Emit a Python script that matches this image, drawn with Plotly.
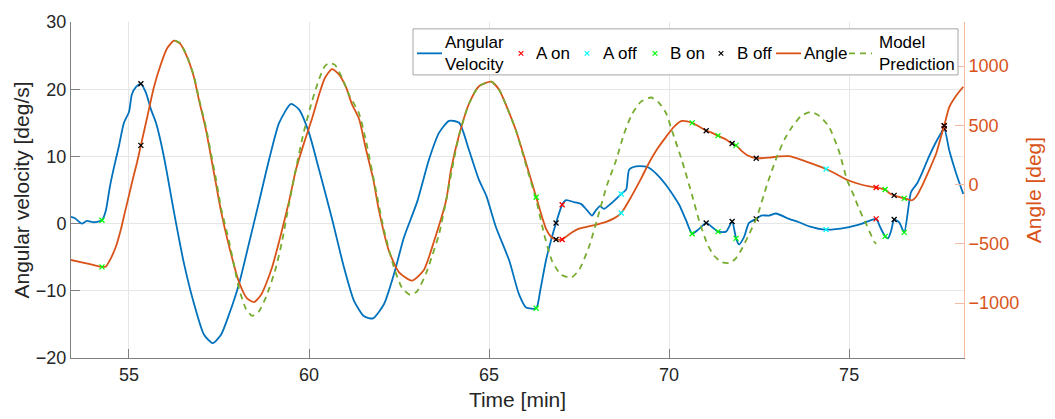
import plotly.graph_objects as go

# ---------------- data ----------------
# Angular velocity [deg/s] (left axis)
vel_t = [53.39, 53.50, 53.69, 53.83, 54.03, 54.25, 54.36, 54.47, 54.58, 54.72, 54.86,
         55.00, 55.08, 55.19, 55.33, 55.47, 55.61, 55.75, 55.89, 56.03, 56.25,
         56.53, 56.81, 57.08, 57.33, 57.56, 57.78, 58.06, 58.33, 58.61, 58.89, 59.17,
         59.50, 59.72, 60.00, 60.28, 60.64, 60.97, 61.25, 61.53, 61.78, 62.08, 62.36,
         62.64, 63.00, 63.33, 63.61, 63.89, 64.17, 64.44, 64.72, 64.92, 65.19, 65.56,
         65.83, 66.03, 66.31, 66.42, 66.58, 66.72, 66.86, 67.03, 67.14, 67.36, 67.56,
         67.72, 67.86, 67.97, 68.08, 68.19, 68.39, 68.67, 68.81, 68.89, 69.08, 69.31,
         69.44, 69.72, 69.92, 70.14, 70.28, 70.47, 70.64, 70.81, 71.03, 71.19, 71.36,
         71.58, 71.75, 71.86, 71.94, 72.08, 72.22, 72.42, 72.56, 72.78, 72.97, 73.33,
         73.61, 73.89, 74.36, 74.92, 75.36, 75.75, 75.86, 76.00, 76.08, 76.17, 76.25,
         76.39, 76.53, 76.72, 76.89, 77.03, 77.22, 77.44, 77.64, 77.78, 77.97, 78.17]
vel_v = [1.0, 0.8, 0.0, 0.4, 0.2, 0.5, 2.0, 5.5, 8.3, 11.5, 15.0,
         16.6, 19.2, 20.3, 20.8, 19.5, 17.0, 15.0, 12.0, 8.3, 1.7,
         -6.0, -12.0, -16.5, -17.8, -16.5, -13.5, -8.9, -3.0, 3.2, 9.5, 15.0,
         17.8, 17.0, 13.5, 8.0, 0.7, -6.5, -11.5, -13.8, -14.1, -12.0, -7.5,
         -2.0, 3.2, 9.5, 13.5, 15.3, 15.0, 11.0, 6.5, 4.2, -0.5, -5.5,
         -10.5, -12.5, -12.6, -10.0, -5.5, -2.5, 0.1, 2.8, 3.5, 3.2, 2.9,
         2.0, 1.2, 2.0, 2.6, 2.2, 3.0, 4.4, 5.1, 8.0, 8.5, 8.5,
         8.3, 7.0, 5.7, 4.0, 2.8, 0.5, -1.5, -0.9, 0.1, -0.5, -1.2,
         -1.2, 0.3, -2.2, -3.1, -2.0, 0.1, 0.7, 1.2, 1.2, 1.5, 0.7,
         0.2, -0.4, -0.9, -0.6, 0.0, 0.7, -0.5, -1.9, -2.2, -1.0, 0.6,
         0.2, -1.3, 4.7, 6.0, 7.6, 10.0, 12.4, 14.1, 10.9, 7.5, 4.4]

# Angle [deg] (right axis)
ang_t = [53.39, 53.75, 54.03, 54.25, 54.36, 54.50, 54.64, 54.78, 54.89, 55.00, 55.11,
         55.22, 55.33, 55.50, 55.69, 55.89, 56.06, 56.25, 56.42, 56.61, 56.81, 56.94,
         57.14, 57.28, 57.42, 57.56, 57.78, 58.06, 58.28, 58.47, 58.67, 58.83, 58.97,
         59.17, 59.44, 59.64, 59.86, 60.08, 60.28, 60.44, 60.64, 60.83, 61.03, 61.19,
         61.39, 61.58, 61.78, 61.94, 62.22, 62.50, 62.86, 63.19, 63.47, 63.81, 63.94,
         64.17, 64.44, 64.72, 65.06, 65.28, 65.50, 65.75, 66.03, 66.31, 66.58, 66.72,
         66.86, 67.03, 67.22, 67.50, 67.86, 68.25, 68.47, 68.67, 68.97, 69.22, 69.44,
         69.67, 69.92, 70.14, 70.36, 70.64, 70.83, 71.03, 71.19, 71.36, 71.58, 71.75,
         71.86, 72.03, 72.17, 72.42, 72.78, 73.06, 73.33, 73.69, 74.03, 74.36, 74.64,
         74.94, 75.28, 75.56, 75.75, 76.00, 76.11, 76.25, 76.53, 76.75, 76.89, 77.03,
         77.22, 77.42, 77.53, 77.64, 77.78, 77.97, 78.17]
ang_v = [-636, -660, -680, -694, -690, -620, -520, -372, -230, -91, 50,
         182, 331, 560, 820, 1020, 1150, 1215, 1190, 1080, 900, 719,
         460, 230, 0, -230, -520, -826, -960, -992, -930, -820, -702,
         -480, -149, 130, 350, 554, 760, 900, 975, 930, 820, 680,
         554, 300, 50, -215, -560, -740, -810, -720, -480, -130, 120,
         420, 680, 830, 868, 800, 650, 455, 180, -107, -372, -440,
         -463, -463, -420, -372, -347, -314, -285, -240, -91, 50, 182,
         300, 405, 490, 537, 521, 490, 455, 437, 413, 380, 347,
         331, 280, 248, 223, 228, 238, 240, 207, 170, 132, 90,
         41, 5, -15, -25, -41, -70, -91, -116, -132, -90, -8,
         120, 264, 380, 496, 653, 750, 826]

# Model prediction [deg] (right axis)
mod_t = [56.28, 56.42, 56.61, 56.81, 56.94, 57.14, 57.28, 57.42, 57.56, 57.78, 58.06,
         58.25, 58.42, 58.61, 58.83, 59.08, 59.25, 59.44, 59.64, 59.86, 60.08, 60.28,
         60.44, 60.56, 60.72, 60.92, 61.11, 61.39, 61.58, 61.86, 62.08, 62.36, 62.58,
         62.81, 63.00, 63.25, 63.42, 63.61, 63.83, 64.03, 64.17, 64.44, 64.72, 65.06,
         65.28, 65.50, 65.75, 66.03, 66.31, 66.53, 66.75, 67.00, 67.28, 67.50, 67.78,
         68.06, 68.28, 68.53, 68.75, 68.97, 69.22, 69.50, 69.72, 69.92, 70.08, 70.36,
         70.64, 70.83, 71.06, 71.25, 71.47, 71.69, 71.86, 72.03, 72.22, 72.44, 72.72,
         73.00, 73.22, 73.42, 73.67, 73.94, 74.17, 74.44, 74.72, 74.94, 75.14, 75.28,
         75.50, 75.69, 75.75]
mod_v = [1215, 1195, 1085, 910, 730, 480, 260, 40, -200, -480, -880,
         -1050, -1107, -1070, -930, -702, -480, -170, 140, 450, 700, 890,
         1000, 1025, 1010, 900, 760, 600, 370, -50, -380, -700, -870,
         -930, -900, -750, -600, -421, -100, 220, 420, 680, 830, 868,
         800, 650, 455, 160, -130, -420, -645, -760, -785, -720, -520,
         -231, 0, 207, 430, 595, 700, 735, 690, 600, 455, 200,
         -91, -300, -500, -600, -655, -661, -620, -537, -420, -273, 0,
         240, 390, 488, 580, 612, 580, 488, 280, 41, -100, -207,
         -350, -479, -500]

# Event markers
a_on_t = [67.03, 75.75, 77.64]
a_on_vel = [2.8, 0.7, 14.1]
a_on_ang = [-463, -25, 496]

a_off_t = [68.67, 74.36]
a_off_vel = [4.4, -0.9]
a_off_ang = [-240, 132]

b_on_t = [54.25, 66.31, 70.64, 71.36, 71.86, 76.00, 76.53]
b_on_vel = [0.5, -12.6, -1.5, -1.2, -2.2, -1.9, -1.3]
b_on_ang = [-694, -107, 521, 413, 331, -41, -116]

b_off_t = [55.33, 66.86, 71.03, 71.75, 72.42, 76.25, 77.64]
b_off_vel = [20.8, 0.1, 0.1, 0.3, 0.7, 0.6, 14.1]
b_off_ang = [331, -463, 455, 347, 223, -91, 496]

x_ticks = [55, 60, 65, 70, 75]
left_ticks = [-20, -10, 0, 10, 20, 30]
right_ticks = [-1000, -500, 0, 500, 1000]

legend_labels = ["Angular<br>Velocity", "A on", "A off", "B on", "B off", "Angle", "Model<br>Prediction"]

# ---------------- styling ----------------
BLUE = "#0072BD"
ORANGE = "#D95319"
GREEN = "#77AC30"
RED = "#FF0000"
CYAN = "#00FFFF"
LIME = "#00FF00"
BLACK = "#000000"
FONT = "Liberation Sans, Arial, Helvetica, sans-serif"
TXT = "#262626"
AX = "#808080"
GRID = "#e6e6e6"

W, H = 1055, 419
ML, MR, MT, MB = 71, 91, 16, 60
PW, PH = W - ML - MR, H - MT - MB


def pxx(p):
    return (p - ML) / PW


def pxy(p):
    return (H - MB - p) / PH


fig = go.Figure()

fig.add_trace(go.Scatter(x=vel_t, y=vel_v, mode="lines", name="Angular Velocity",
                         line=dict(color=BLUE, width=1.8, shape="spline", smoothing=0.6),
                         yaxis="y"))
fig.add_trace(go.Scatter(x=ang_t, y=ang_v, mode="lines", name="Angle",
                         line=dict(color=ORANGE, width=1.8, shape="spline", smoothing=0.6),
                         yaxis="y2"))
fig.add_trace(go.Scatter(x=mod_t, y=mod_v, mode="lines", name="Model Prediction",
                         line=dict(color=GREEN, width=1.8, dash="6px,5px", shape="spline", smoothing=0.6),
                         yaxis="y2"))

markers = [
    ("A on", RED, a_on_t, a_on_vel, a_on_ang),
    ("A off", CYAN, a_off_t, a_off_vel, a_off_ang),
    ("B on", LIME, b_on_t, b_on_vel, b_on_ang),
    ("B off", BLACK, b_off_t, b_off_vel, b_off_ang),
]
for name, col, t, v1, v2 in markers:
    mk = dict(symbol="x-thin", size=5, color=col, line=dict(color=col, width=1.3))
    fig.add_trace(go.Scatter(x=t, y=v1, mode="markers", name=name, marker=mk, yaxis="y"))
    fig.add_trace(go.Scatter(x=t, y=v2, mode="markers", name=name, marker=mk, yaxis="y2"))

# ---------------- compact MATLAB-style legend ----------------
shapes = []
annotations = []
shapes.append(dict(type="rect", xref="paper", yref="paper", layer="above",
                   x0=pxx(413), x1=pxx(958), y0=pxy(70), y1=pxy(23),
                   fillcolor="white", line=dict(color="#a6a6a6", width=1)))
row_y = 48
# (kind, colour, sample start, sample end, text x)
legend_layout = [
    ("line", BLUE, 417, 442, 443),
    ("x", RED, 521, 521, 534),
    ("x", CYAN, 587, 587, 601),
    ("x", LIME, 655, 655, 668),
    ("x", BLACK, 721, 721, 735),
    ("line", ORANGE, 776, 801, 802),
    ("dash", GREEN, 849, 872, 877),
]
for (kind, col, s0, s1, tx), label in zip(legend_layout, legend_labels):
    if kind == "x":
        r = 2.3
        for dy in (-r, r):
            shapes.append(dict(type="line", xref="paper", yref="paper", layer="above",
                               x0=pxx(s0 - r), x1=pxx(s0 + r), y0=pxy(row_y - dy), y1=pxy(row_y + dy),
                               line=dict(color=col, width=1.2)))
    else:
        shapes.append(dict(type="line", xref="paper", yref="paper", layer="above",
                           x0=pxx(s0), x1=pxx(s1), y0=pxy(row_y), y1=pxy(row_y),
                           line=dict(color=col, width=1.8,
                                     dash="6px,5px" if kind == "dash" else "solid")))
    annotations.append(dict(xref="paper", yref="paper", x=pxx(tx), y=pxy(row_y),
                            xanchor="left", yanchor="middle", showarrow=False,
                            text=label, align="left",
                            font=dict(family=FONT, size=17, color="#000000")))

fig.update_layout(
    width=W, height=H,
    margin=dict(l=ML, r=MR, t=MT, b=MB),
    paper_bgcolor="white", plot_bgcolor="white",
    font=dict(family=FONT, size=18, color=TXT),
    showlegend=False,
    shapes=shapes,
    annotations=annotations,
    xaxis=dict(range=[53.39, 78.19], tickvals=x_ticks, ticks="inside", ticklen=9,
               tickcolor=AX, showline=True, linecolor=AX, linewidth=1,
               showgrid=True, gridcolor=GRID, zeroline=False,
               tickfont=dict(size=18, color=TXT),
               title=dict(text="Time [min]", font=dict(size=21, color=TXT), standoff=8)),
    yaxis=dict(range=[-20, 30], tickvals=left_ticks, ticks="inside", ticklen=9,
               tickcolor=AX, showline=True, linecolor=AX, linewidth=1,
               showgrid=True, gridcolor=GRID, zeroline=False,
               tickfont=dict(size=18, color=TXT),
               title=dict(text="Angular velocity [deg/s]", font=dict(size=21, color=TXT), standoff=0)),
    yaxis2=dict(range=[-1463, 1372], tickvals=right_ticks, overlaying="y", side="right",
                ticks="inside", ticklen=9, tickcolor="#F4B9A0",
                showline=True, linecolor="#F4B9A0", linewidth=1,
                showgrid=False, zeroline=False,
                tickfont=dict(size=18, color=ORANGE),
                title=dict(text="Angle [deg]", font=dict(size=21, color=ORANGE), standoff=8)),
)

fig.write_html("out.html")
